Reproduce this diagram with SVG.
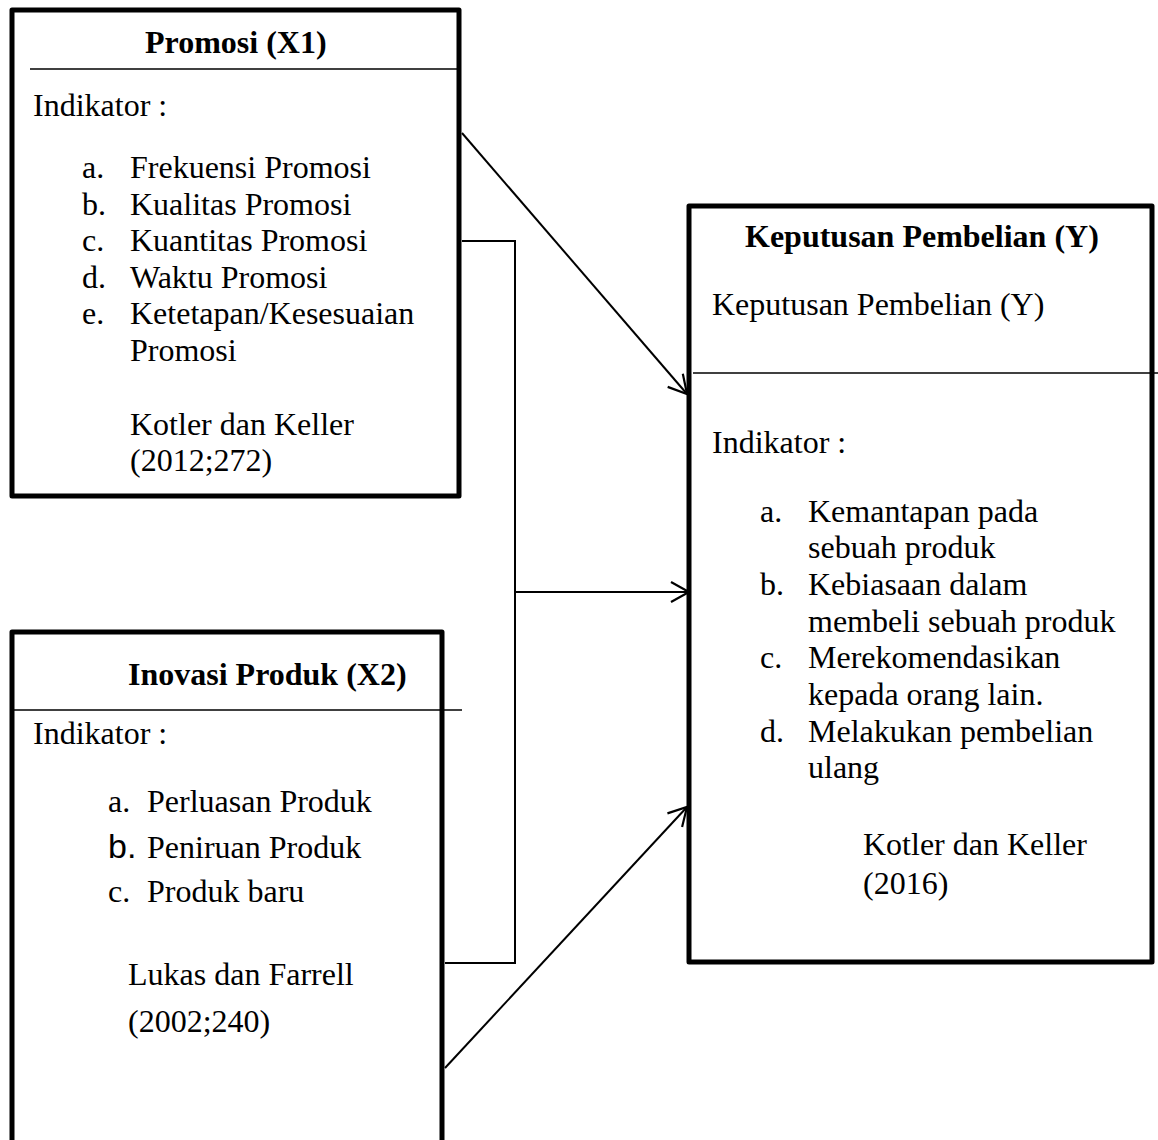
<svg xmlns="http://www.w3.org/2000/svg" width="1158" height="1140" viewBox="0 0 1158 1140">
<style>
  .box { fill: #fff; stroke: #000; stroke-width: 5; stroke-linejoin: round; }
  .div { stroke: #000; stroke-width: 1.6; fill: none; }
  .conn { stroke: #000; stroke-width: 2; fill: none; }
  text { font-family: "Liberation Serif", "Times New Roman", serif; font-size: 32px; fill: #000; }
  .b { font-weight: bold; }
  .sans { font-family: "Liberation Sans", Arial, sans-serif; font-size: 34px; }
</style>
<defs>
  <marker id="arr" markerUnits="userSpaceOnUse" markerWidth="24" markerHeight="24" viewBox="0 0 24 24" refX="20" refY="12" orient="auto">
    <path d="M2,2 L20,12 L2,22" fill="none" stroke="#000" stroke-width="2.2"/>
  </marker>
</defs>

<g id="node-x1">
  <rect class="box" x="12" y="10" width="447" height="486"/>
  <line class="div" x1="30" y1="69" x2="461" y2="69"/>
  <text class="b" x="145" y="53">Promosi (X1)</text>
  <text x="33" y="116">Indikator :</text>
  <text x="82" y="178">a.</text><text x="130" y="178">Frekuensi Promosi</text>
  <text x="82" y="215">b.</text><text x="130" y="215">Kualitas Promosi</text>
  <text x="82" y="251">c.</text><text x="130" y="251">Kuantitas Promosi</text>
  <text x="82" y="288">d.</text><text x="130" y="288">Waktu Promosi</text>
  <text x="82" y="324">e.</text><text x="130" y="324">Ketetapan/Kesesuaian</text>
  <text x="130" y="361">Promosi</text>
  <text x="130" y="435">Kotler dan Keller</text>
  <text x="130" y="471">(2012;272)</text>
</g>

<g id="node-x2">
  <rect class="box" x="12" y="632" width="430" height="540"/>
  <line class="div" x1="13" y1="710" x2="462" y2="710"/>
  <text class="b" x="128" y="685">Inovasi Produk (X2)</text>
  <text x="33" y="744">Indikator :</text>
  <text x="108" y="812">a.</text><text x="147" y="812">Perluasan Produk</text>
  <text class="sans" x="108" y="858">b.</text><text x="147" y="858">Peniruan Produk</text>
  <text x="108" y="902">c.</text><text x="147" y="902">Produk baru</text>
  <text x="128" y="985">Lukas dan Farrell</text>
  <text x="128" y="1032">(2002;240)</text>
</g>

<g id="node-y">
  <rect class="box" x="689" y="206" width="463" height="756"/>
  <line class="div" x1="693" y1="373" x2="1158" y2="373"/>
  <text class="b" x="745" y="247">Keputusan Pembelian (Y)</text>
  <text x="712" y="315">Keputusan Pembelian (Y)</text>
  <text x="712" y="453">Indikator :</text>
  <text x="760" y="522">a.</text><text x="808" y="522">Kemantapan pada</text>
  <text x="808" y="558">sebuah produk</text>
  <text x="760" y="595">b.</text><text x="808" y="595">Kebiasaan dalam</text>
  <text x="808" y="632">membeli sebuah produk</text>
  <text x="760" y="668">c.</text><text x="808" y="668">Merekomendasikan</text>
  <text x="808" y="705">kepada orang lain.</text>
  <text x="760" y="742">d.</text><text x="808" y="742">Melakukan pembelian</text>
  <text x="808" y="778">ulang</text>
  <text x="863" y="855">Kotler dan Keller</text>
  <text x="863" y="894">(2016)</text>
</g>

<g id="connectors">
  <line class="conn" x1="462" y1="133" x2="687" y2="394" marker-end="url(#arr)"/>
  <path class="conn" d="M462,241 H515 V963 H445"/>
  <line class="conn" x1="515" y1="592" x2="689" y2="592" marker-end="url(#arr)"/>
  <line class="conn" x1="445" y1="1068" x2="687" y2="807" marker-end="url(#arr)"/>
</g>
</svg>
